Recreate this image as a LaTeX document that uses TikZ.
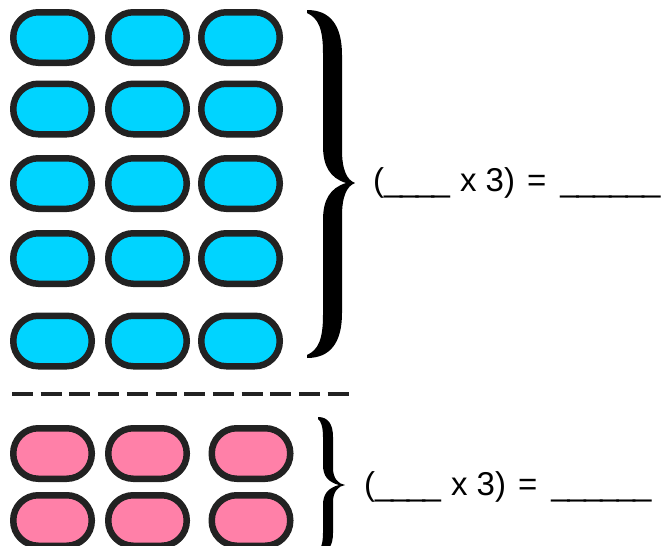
\documentclass[tikz,border=0pt]{standalone}
\usepackage{fontspec}
\setmainfont{Liberation Sans}
\definecolor{pillblue}{HTML}{00D4FF}
\definecolor{pillpink}{HTML}{FF80A8}
\definecolor{ink}{HTML}{222222}
% blank lines made of tightly set underscores
\newcommand\shortblank{\_\kern-2.5pt\_\kern-2.5pt\_\kern-2.5pt\_}
\newcommand\longblank{\_\kern-2pt\_\kern-2pt\_\kern-2pt\_\kern-2pt\_\kern-2pt\_}
\begin{document}
\begin{tikzpicture}[x=1pt,y=-1pt,
  pill/.style={draw=ink, line width=6.5pt, rounded corners=25pt,
    minimum width=78.5pt, minimum height=50.5pt, inner sep=0pt, outer sep=0pt},
  bluepill/.style={pill, fill=pillblue},
  pinkpill/.style={pill, fill=pillpink},
  eqtext/.style={anchor=base west, inner sep=0pt, font=\fontsize{33}{33}\selectfont},
  bracefill/.style={fill=black, draw=none},
  divider/.style={draw=ink, line width=4pt, dash pattern=on 21pt off 7.7pt}]
\useasboundingbox (0,0) rectangle (662,546);
\clip (0,0) rectangle (662,546);

% blue group: five rows of three
\foreach \r/\y in {1/37.5,2/109,3/183.5,4/258.5,5/341}
  \foreach \c/\x in {1/52.5,2/147.5,3/240.5}
    \node[bluepill] (b\r\c) at (\x,\y) {};

% pink group: two rows of three
\foreach \r/\y in {1/453.5,2/520.5}
  \foreach \c/\x in {1/52.5,2/147.5,3/251}
    \node[pinkpill] (p\r\c) at (\x,\y) {};

% dashed separator
\coordinate (dl) at (12,394);
\coordinate (dr) at (349,394);
\draw[divider] (dl) -- (dr);

% large brace beside the blue group
\fill[bracefill] (307,10)
  .. controls (330,10) and (342,25) .. (342,55)
  -- (342,150)
  .. controls (342,170) and (347,180) .. (355,183)
  .. controls (347,186) and (342,196) .. (342,216)
  -- (342,313)
  .. controls (342,343) and (330,358) .. (307,358)
  -- (307,355)
  .. controls (318,350) and (323,340) .. (323,315)
  -- (323,220)
  .. controls (323,200) and (330,188) .. (346,183)
  .. controls (330,178) and (323,166) .. (323,146)
  -- (323,53)
  .. controls (323,28) and (318,18) .. (307,13) -- cycle;

% small brace beside the pink group
\fill[bracefill] (318,417)
  .. controls (328,417) and (333,424) .. (333,437)
  -- (333,468)
  .. controls (333,478) and (338,484) .. (345,485)
  .. controls (338,486) and (333,492) .. (333,502)
  -- (333,533)
  .. controls (333,546) and (328,553) .. (318,553)
  -- (318,551)
  .. controls (321,549) and (323,543) .. (323,533)
  -- (323,505)
  .. controls (323,494) and (328,488) .. (339,485)
  .. controls (328,482) and (323,476) .. (323,465)
  -- (323,437)
  .. controls (323,427) and (321,421) .. (318,419) -- cycle;

% equations
\node[eqtext] (eqblue) at (373,191)
  {(\shortblank\hspace{10pt}x 3)\hspace{12pt}=\hspace{14pt}\longblank};
\node[eqtext] (eqpink) at (364,495)
  {(\shortblank\hspace{10pt}x 3)\hspace{12pt}=\hspace{14pt}\longblank};
\end{tikzpicture}
\end{document}
